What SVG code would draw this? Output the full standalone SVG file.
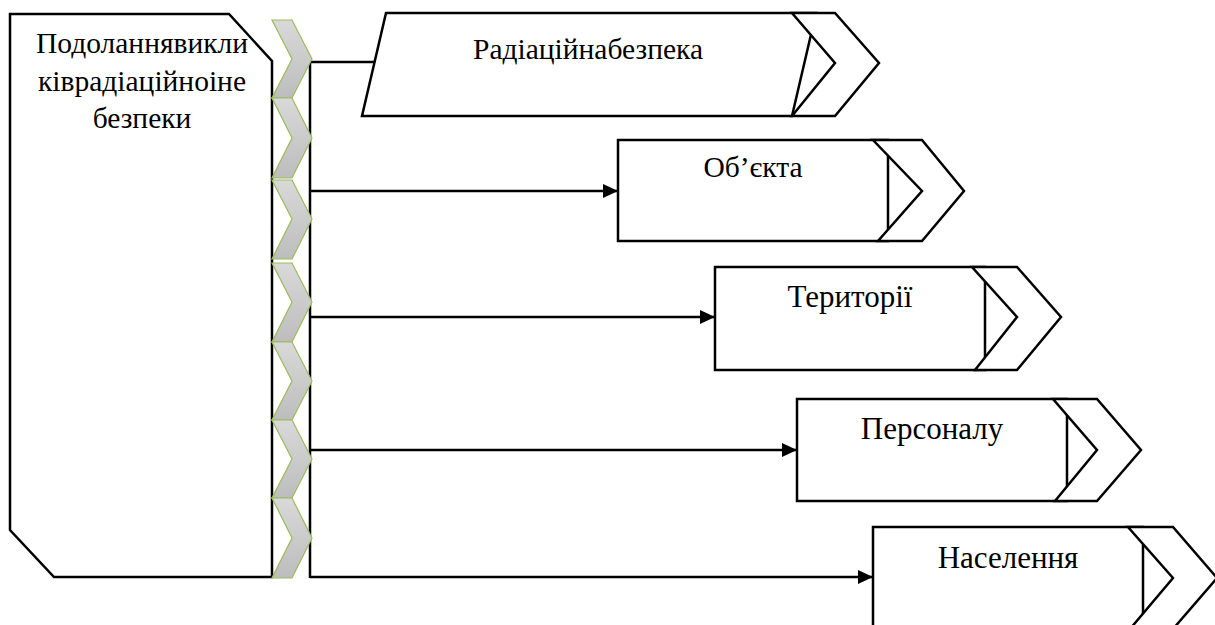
<svg xmlns="http://www.w3.org/2000/svg" width="1215" height="625" viewBox="0 0 1215 625">
<style>
.bx{fill:#fff;stroke:#000;stroke-width:2.5;stroke-linejoin:miter}
.cv{fill:url(#g);stroke:#9bbb59;stroke-width:1.2}
.ln{fill:none;stroke:#000;stroke-width:2.5}
.t{font-size:29.5px;fill:#000;text-anchor:middle}
.s{font-size:31px;fill:#000;text-anchor:middle}
</style>
<defs>
<linearGradient id="g" x1="0" y1="0" x2="0" y2="1">
<stop offset="0" stop-color="#d9d9d9"/>
<stop offset="1" stop-color="#bdbdbd"/>
</linearGradient>
<marker id="ar" markerUnits="userSpaceOnUse" markerWidth="16" markerHeight="14" refX="15" refY="7" orient="auto">
<path d="M0,0 L15,7 L0,14 z" fill="#000"/>
</marker>
</defs>
<g id="main">
<polygon class="bx" points="10,14 229,14 272,61 272,577 54,577 10,530"/>
<g font-family="Liberation Serif, DejaVu Serif, serif">
<text class="t" x="142" y="53">Подоланнявикли</text>
<text class="t" x="142" y="91">ківрадіаційноіне</text>
<text class="t" x="142" y="128">безпеки</text>
</g>
</g>
<g id="connectors">
<path class="ln" d="M310,62 V578"/>
<path class="ln" d="M310,62 H375"/>
<path class="ln" d="M310,191 H618" marker-end="url(#ar)"/>
<path class="ln" d="M310,317 H715" marker-end="url(#ar)"/>
<path class="ln" d="M310,450 H797" marker-end="url(#ar)"/>
<path class="ln" d="M310,577 H873" marker-end="url(#ar)"/>
</g>
<g id="chevrons">
<polygon class="cv" points="272,20 292,20 312,59 292,98 272,98 292,59"/>
<polygon class="cv" points="272,98 292,98 312,138 292,178 272,178 292,138"/>
<polygon class="cv" points="272,180 292,180 312,219 292,259 272,259 292,219"/>
<polygon class="cv" points="272,263 292,263 312,302 292,342 272,342 292,302"/>
<polygon class="cv" points="272,342 292,342 312,381 292,420 272,420 292,381"/>
<polygon class="cv" points="272,420 292,420 312,459 292,498 272,498 292,459"/>
<polygon class="cv" points="272,498 292,498 312,538 292,578 272,578 292,538"/>
</g>
<g font-family="Liberation Serif, DejaVu Serif, serif">
<g id="n1">
<polygon class="bx" points="386,13 816,13 792,116 362,116"/>
<polygon class="bx" points="792,13 835,13 879,63 835,116 792,116 835,63"/>
<text class="t" x="588" y="59">Радіаційнабезпека</text>
</g>
<g id="n2">
<rect class="bx" x="618" y="140" width="270" height="101"/>
<polygon class="bx" points="873,140 922,140 964,191 922,241 878,241 922,191"/>
<text class="t" x="753" y="177">Об’єкта</text>
</g>
<g id="n3">
<rect class="bx" x="715" y="267" width="270" height="103"/>
<polygon class="bx" points="972,267 1017,267 1061,317 1017,370 975,370 1017,317"/>
<text class="s" x="850" y="307">Території</text>
</g>
<g id="n4">
<rect class="bx" x="797" y="399" width="270" height="102"/>
<polygon class="bx" points="1053,399 1097,399 1141,450 1097,501 1055,501 1097,450"/>
<text class="s" x="932" y="439">Персоналу</text>
</g>
<g id="n5">
<rect class="bx" x="873" y="527" width="270" height="102"/>
<polygon class="bx" points="1128,527 1173,527 1217,578 1173,629 1130,629 1173,578"/>
<text class="s" x="1008" y="568">Населення</text>
</g>
</g>
</svg>
